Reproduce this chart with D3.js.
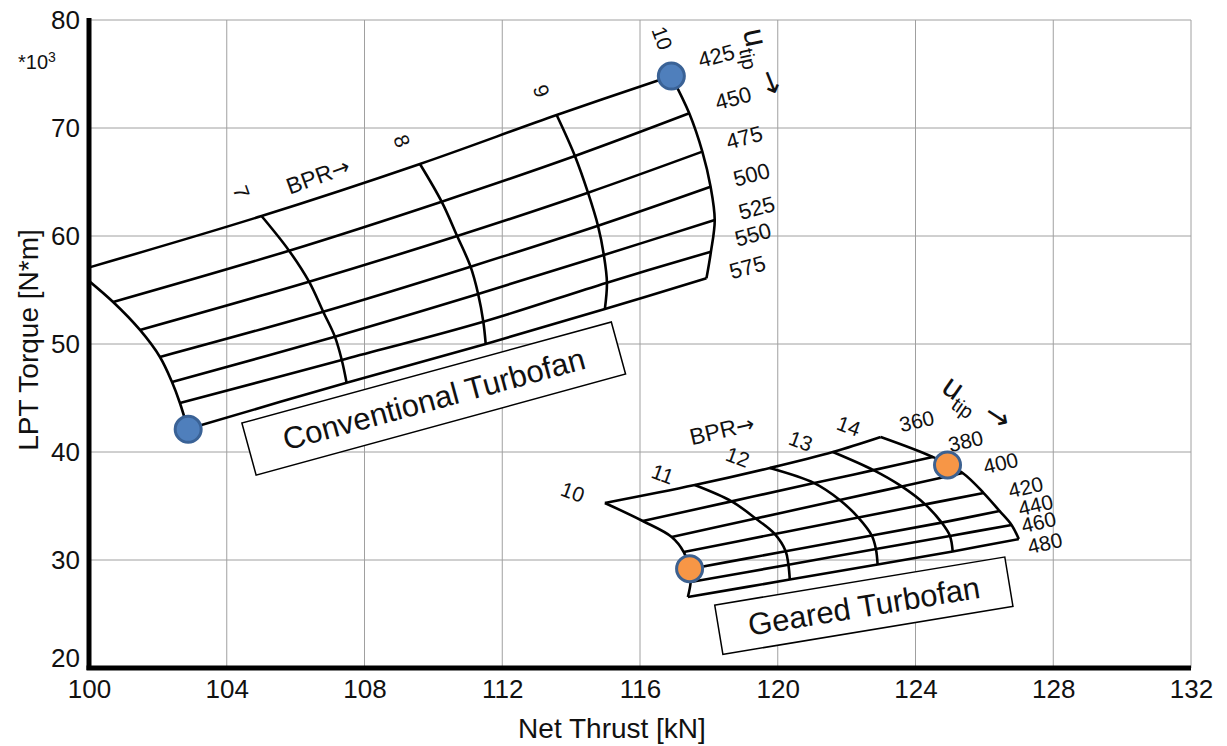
<!DOCTYPE html>
<html>
<head>
<meta charset="utf-8">
<script src="https://cdn.jsdelivr.net/npm/d3@7"></script>
<style>
  body { margin: 0; background: #fff; }
  text { font-family: Arial, "Liberation Sans", sans-serif; fill: #111; }
  .arrow { font-family: "DejaVu Sans", sans-serif; }
</style>
</head>
<body>
<div id="chart"></div>
<script>
// axis ticks
const thrustTicks = [100, 104, 108, 112, 116, 120, 124, 128, 132];
const torqueTicks = [20, 30, 40, 50, 60, 70, 80];

// conventional turbofan carpet: rows = BPR, cols = u_tip
const convBPR = [6, 7, 8, 9, 10];
const convUtip = [425, 450, 475, 500, 525, 550, 575];
const convThrust = [
  [99.65, 100.70, 101.48, 102.06, 102.41, 102.64, 102.87],
  [105.01, 105.81, 106.39, 106.80, 107.14, 107.34, 107.48],
  [109.61, 110.24, 110.69, 111.08, 111.30, 111.45, 111.52],
  [113.58, 114.11, 114.49, 114.78, 114.95, 115.04, 114.98],
  [116.91, 117.43, 117.81, 118.05, 118.17, 118.06, 117.93]
];
const convTorque = [
  [56.76, 53.89, 51.30, 48.80, 46.48, 44.54, 42.13],
  [61.85, 58.64, 55.77, 52.99, 50.68, 48.52, 46.42],
  [66.67, 63.18, 60.00, 57.16, 54.63, 52.06, 50.00],
  [71.20, 67.41, 64.01, 60.95, 58.24, 55.68, 53.24],
  [74.81, 71.36, 67.81, 64.56, 61.48, 58.55, 56.08]
];
const convBprLabels = ["", "7", "8", "9", "10"];

// geared turbofan carpet
const gtfBPR = [10, 11, 12, 13, 14];
const gtfUtip = [360, 380, 400, 420, 440, 460, 480];
const gtfThrust = [
  [114.98, 116.08, 116.92, 117.27, 117.44, 117.47, 117.39],
  [117.59, 118.66, 119.36, 119.91, 120.23, 120.31, 120.35],
  [119.77, 121.06, 121.80, 122.34, 122.73, 122.85, 122.90],
  [121.60, 122.78, 123.60, 124.28, 124.76, 125.00, 125.08],
  [122.99, 124.50, 125.37, 125.98, 126.44, 126.79, 127.00]
];
const gtfTorque = [
  [35.28, 33.61, 32.13, 30.74, 29.17, 27.96, 26.57],
  [36.94, 35.43, 33.84, 32.41, 30.81, 29.56, 28.19],
  [38.52, 37.12, 35.56, 33.93, 32.27, 31.02, 29.58],
  [40.00, 38.32, 36.81, 35.15, 33.46, 32.23, 30.79],
  [41.39, 39.54, 38.06, 36.20, 34.54, 33.24, 31.94]
];

// highlighted design points
const convDotThrust = [116.91, 102.88];
const convDotTorque = [74.81, 42.10];
const gtfDotThrust = [117.44, 124.93];
const gtfDotTorque = [29.20, 38.80];

const W = 1227, H = 746;

const x = d3.scaleLinear().domain([100, 132]).range([89, 1191]);
const y = d3.scaleLinear().domain([20, 80]).range([668, 20]);

const svg = d3.select("#chart").append("svg")
  .attr("width", W)
  .attr("height", H);

// grid
svg.append("g").selectAll("line")
  .data(thrustTicks.slice(1))
  .join("line")
    .attr("x1", d => x(d)).attr("x2", d => x(d))
    .attr("y1", y(20)).attr("y2", y(80))
    .attr("stroke", "#a0a0a0").attr("stroke-width", 1);

svg.append("g").selectAll("line")
  .data(torqueTicks.slice(1))
  .join("line")
    .attr("x1", x(100)).attr("x2", x(132))
    .attr("y1", d => y(d)).attr("y2", d => y(d))
    .attr("stroke", "#a0a0a0").attr("stroke-width", 1);

// axes
const xAxis = svg.append("g")
  .attr("transform", `translate(0,${y(20)})`)
  .call(d3.axisBottom(x).tickValues(thrustTicks).tickSize(0).tickPadding(12).tickFormat(d3.format("d")));
xAxis.select(".domain").remove();
xAxis.selectAll("text").style("font-size", "26px").attr("fill", "#111");

const yAxis = svg.append("g")
  .attr("transform", `translate(${x(100)},0)`)
  .call(d3.axisLeft(y).tickValues(torqueTicks).tickSize(0).tickPadding(9));
yAxis.select(".domain").remove();
yAxis.selectAll("text").style("font-size", "26px").attr("fill", "#111");
// lift the bottom label a little so it clears "100"
yAxis.selectAll("text").filter(d => d === 20).attr("dy", "-0.05em");

svg.append("line")
  .attr("x1", x(100)).attr("x2", x(100))
  .attr("y1", y(80) - 2).attr("y2", y(20) + 2)
  .attr("stroke", "#000").attr("stroke-width", 5);
svg.append("line")
  .attr("x1", x(100) - 2.5).attr("x2", x(132))
  .attr("y1", y(20)).attr("y2", y(20))
  .attr("stroke", "#000").attr("stroke-width", 5);

// axis titles
svg.append("text")
  .attr("x", 612).attr("y", 738)
  .attr("text-anchor", "middle")
  .style("font-size", "28px")
  .text("Net Thrust [kN]");

svg.append("text")
  .attr("transform", "translate(38,340) rotate(-90)")
  .attr("text-anchor", "middle")
  .style("font-size", "28px")
  .text("LPT Torque [N*m]");

const mult = svg.append("text")
  .attr("x", 18).attr("y", 69)
  .style("font-size", "20px")
  .text("*10");
mult.append("tspan").attr("dy", -7).style("font-size", "14px").text("3");

// clip to plot area
svg.append("clipPath").attr("id", "plotArea")
  .append("rect")
    .attr("x", x(100)).attr("y", y(80))
    .attr("width", x(132) - x(100)).attr("height", y(20) - y(80));

const curve = d3.line()
  .x(d => x(d[0]))
  .y(d => y(d[1]))
  .curve(d3.curveCatmullRom.alpha(0.5));

function drawCarpet(bprs, utips, thrust, torque) {
  const g = svg.append("g").attr("clip-path", "url(#plotArea)");
  // constant BPR
  bprs.forEach((b, i) => {
    g.append("path")
      .attr("d", curve(utips.map((u, j) => [thrust[i][j], torque[i][j]])))
      .attr("fill", "none").attr("stroke", "#000").attr("stroke-width", 2.6);
  });
  // constant u_tip
  utips.forEach((u, j) => {
    g.append("path")
      .attr("d", curve(bprs.map((b, i) => [thrust[i][j], torque[i][j]])))
      .attr("fill", "none").attr("stroke", "#000").attr("stroke-width", 2.6);
  });
}

drawCarpet(convBPR, convUtip, convThrust, convTorque);
drawCarpet(gtfBPR, gtfUtip, gtfThrust, gtfTorque);

// annotation box
function labelBox(cx, cy, w, h, angle, label, size) {
  const g = svg.append("g")
    .attr("transform", `translate(${x(cx)},${y(cy)}) rotate(${angle})`);
  g.append("rect")
    .attr("x", -w / 2).attr("y", -h / 2)
    .attr("width", w).attr("height", h)
    .attr("fill", "#fff").attr("stroke", "#000").attr("stroke-width", 1.5);
  g.append("text")
    .attr("text-anchor", "middle")
    .attr("dy", "0.36em")
    .style("font-size", size + "px")
    .text(label);
}
labelBox(110.01, 44.95, 383, 54, -15.3, "Conventional Turbofan", 31);
labelBox(122.50, 25.77, 294, 50, -9.4, "Geared Turbofan", 31);

// small rotated text helper
function rotText(px, py, angle, str, size) {
  return svg.append("text")
    .attr("transform", `translate(${px},${py}) rotate(${angle})`)
    .attr("text-anchor", "middle")
    .attr("dominant-baseline", "central")
    .style("font-size", size + "px")
    .text(str);
}

function bprText(px, py, angle) {
  const t = rotText(px, py, angle, "BPR", 23);
  t.append("tspan").attr("class", "arrow").style("font-size", "22px").text("\u2192");
  return t;
}

// conventional labels
const convBprOff = [null, [-20, -24], [-18, -23], [-15, -24], [-9, -38]];
convBPR.forEach((b, i) => {
  if (!convBprLabels[i]) return;
  rotText(x(convThrust[i][0]) + convBprOff[i][0], y(convTorque[i][0]) + convBprOff[i][1], 70, convBprLabels[i], 21);
});
const convUtipOff = [[45, -20], [44, -15], [42, -14], [41, -12], [42, -12], [42, -17], [41, -11]];
convUtip.forEach((u, j) => {
  const last = convBPR.length - 1;
  rotText(x(convThrust[last][j]) + convUtipOff[j][0], y(convTorque[last][j]) + convUtipOff[j][1], -15, u, 22);
});
bprText(318, 176, -20);

// geared labels
gtfBPR.forEach((b, i) => {
  rotText(x(gtfThrust[i][0]) - 32, y(gtfTorque[i][0]) - 11, 20, b, 21);
});
const gtfUtipOff = [[36, -16], [33, -16], [38, -10], [42, -6], [36, -6], [27, -3], [26, 4]];
gtfUtip.forEach((u, j) => {
  const last = gtfBPR.length - 1;
  rotText(x(gtfThrust[last][j]) + gtfUtipOff[j][0], y(gtfTorque[last][j]) + gtfUtipOff[j][1], -13, u, 21);
});
bprText(722, 430, -13);

// u_tip symbols with arrows
function utipSymbol(px, py, angle) {
  const t = svg.append("text")
    .attr("transform", `translate(${px},${py}) rotate(${angle})`)
    .style("font-size", "32px");
  t.append("tspan").text("u");
  t.append("tspan").attr("dy", 8).style("font-size", "20px").text("tip");
}
utipSymbol(743, 31, 78);
rotText(772, 82, 68, "\u2192", 30).attr("class", "arrow");
utipSymbol(940, 391, 35);
rotText(998, 416, 33, "\u2192", 30).attr("class", "arrow");

// design points
function dots(tx, tq, fill, stroke) {
  svg.append("g").selectAll("circle")
    .data(tx.map((t, i) => [t, tq[i]]))
    .join("circle")
      .attr("cx", d => x(d[0])).attr("cy", d => y(d[1]))
      .attr("r", 13)
      .attr("fill", fill)
      .attr("stroke", stroke).attr("stroke-width", 3);
}
dots(convDotThrust, convDotTorque, "#4f7fbc", "#3a6296");
dots(gtfDotThrust, gtfDotTorque, "#f79646", "#3d6190");
</script>
</body>
</html>
